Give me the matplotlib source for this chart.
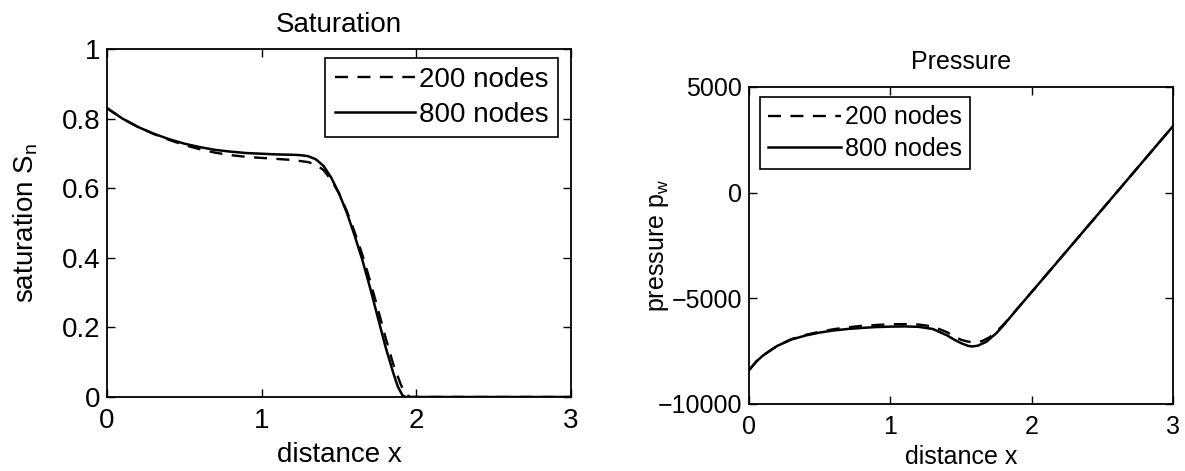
import matplotlib
matplotlib.use("Agg")
import matplotlib.pyplot as plt

plt.rcParams["font.family"] = ["Liberation Sans", "DejaVu Sans"]
plt.rcParams["mathtext.fontset"] = "custom"
plt.rcParams["mathtext.rm"] = "Liberation Sans"
plt.rcParams["mathtext.it"] = "Liberation Sans"

# saturation, 800 nodes
sat_x_fine = [0.0, 0.1, 0.2, 0.3, 0.4, 0.5, 0.6, 0.7, 0.8, 0.9, 1.0, 1.1, 1.2, 1.25,
              1.3, 1.35, 1.4, 1.45, 1.5, 1.55, 1.6, 1.65, 1.7, 1.75, 1.8, 1.85,
              1.88, 1.91, 1.93, 3.0]
sat_fine = [0.83, 0.800, 0.776, 0.757, 0.741, 0.728, 0.718, 0.710, 0.705, 0.701, 0.699,
            0.697, 0.696, 0.695, 0.692, 0.683, 0.664, 0.630, 0.585, 0.530, 0.465,
            0.395, 0.315, 0.230, 0.145, 0.070, 0.030, 0.005, 0.0, 0.0]

# saturation, 200 nodes
sat_x_coarse = [0.0, 0.1, 0.2, 0.3, 0.4, 0.5, 0.6, 0.7, 0.8, 0.9, 1.0, 1.1, 1.2, 1.3,
                1.35, 1.4, 1.45, 1.5, 1.55, 1.6, 1.65, 1.7, 1.75, 1.8, 1.85, 1.9,
                1.93, 1.96, 3.0]
sat_coarse = [0.83, 0.800, 0.776, 0.756, 0.739, 0.724, 0.712, 0.702, 0.695, 0.690,
              0.687, 0.684, 0.681, 0.675, 0.668, 0.652, 0.623, 0.585, 0.535, 0.475,
              0.410, 0.335, 0.255, 0.172, 0.095, 0.035, 0.008, 0.0, 0.0]

# pressure, 800 nodes
p_x_fine = [0.0, 0.05, 0.1, 0.2, 0.3, 0.4, 0.5, 0.6, 0.7, 0.8, 0.9, 1.0, 1.1, 1.2,
            1.3, 1.4, 1.45, 1.5, 1.55, 1.58, 1.62, 1.68, 1.75, 1.8, 1.9, 2.0, 2.5, 3.0]
p_fine = [-8400, -8000, -7700, -7250, -6950, -6760, -6620, -6520, -6450, -6400,
          -6360, -6340, -6330, -6350, -6450, -6750, -6950, -7120, -7250, -7280,
          -7240, -7050, -6650, -6280, -5480, -4700, -780, 3150]

# pressure, 200 nodes
p_x_coarse = [0.0, 0.05, 0.1, 0.2, 0.3, 0.4, 0.5, 0.6, 0.7, 0.8, 0.9, 1.0, 1.1, 1.2,
              1.3, 1.4, 1.45, 1.5, 1.55, 1.6, 1.65, 1.7, 1.75, 1.8, 1.9, 2.0, 2.5, 3.0]
p_coarse = [-8400, -8000, -7700, -7240, -6930, -6730, -6580, -6460, -6370, -6300,
            -6260, -6230, -6220, -6240, -6330, -6600, -6800, -6960, -7050, -7080,
            -7020, -6850, -6580, -6250, -5480, -4700, -780, 3150]

x_ticks = [0, 1, 2, 3]
sat_ticks = [0, 0.2, 0.4, 0.6, 0.8, 1]
sat_tick_labels = ["0", "0.2", "0.4", "0.6", "0.8", "1"]
p_ticks = [-10000, -5000, 0, 5000]


def style_axes(ax, size):
    for side in ax.spines.values():
        side.set_linewidth(1.3)
    ax.tick_params(direction="in", top=True, right=True, length=6, width=1.0,
                   labelsize=size)
    ax.tick_params(axis="x", pad=8)
    ax.tick_params(axis="y", pad=5)


def add_legend(ax, size, loc, anchor):
    leg = ax.legend(loc=loc, bbox_to_anchor=anchor, borderaxespad=0,
                    fontsize=size, handlelength=2.9, handletextpad=0.15,
                    fancybox=False, framealpha=1, edgecolor="k",
                    borderpad=0.33, labelspacing=0.3)
    leg.get_frame().set_linewidth(1.2)
    return leg


fig = plt.figure(figsize=(11.85, 4.71), dpi=100)

ax1 = fig.add_axes([0.0903, 0.1571, 0.3916, 0.7389])
ax1.plot(sat_x_coarse, sat_coarse, "k--", lw=1.7, dashes=(5.5, 4.0), label="200 nodes")
ax1.plot(sat_x_fine, sat_fine, "k-", lw=1.8, label="800 nodes")
ax1.set_xlim(0, 3)
ax1.set_ylim(0, 1)
ax1.set_xticks(x_ticks)
ax1.set_yticks(sat_ticks)
ax1.set_yticklabels(sat_tick_labels)
style_axes(ax1, 20)
ax1.set_title("Saturation", fontsize=20, pad=12)
ax1.set_xlabel("distance x", fontsize=20, labelpad=6)
ax1.set_ylabel("saturation S$_\\mathregular{n}$", fontsize=20)
ax1.yaxis.set_label_coords(-0.145, 0.5)
add_legend(ax1, 20, "upper right", (0.972, 0.974))

ax2 = fig.add_axes([0.6321, 0.1423, 0.3578, 0.6730])
ax2.plot(p_x_coarse, p_coarse, "k--", lw=1.7, dashes=(5.5, 4.0), label="200 nodes")
ax2.plot(p_x_fine, p_fine, "k-", lw=1.8, label="800 nodes")
ax2.set_xlim(0, 3)
ax2.set_ylim(-10000, 5000)
ax2.set_xticks(x_ticks)
ax2.set_yticks(p_ticks)
style_axes(ax2, 18)
ax2.set_title("Pressure", fontsize=18, pad=13)
ax2.set_xlabel("distance x", fontsize=18, labelpad=4)
ax2.set_ylabel("pressure p$_\\mathregular{w}$", fontsize=18)
ax2.yaxis.set_label_coords(-0.185, 0.5)
add_legend(ax2, 18, "upper left", (0.026, 0.968))

fig.savefig("out.png", dpi=100)
